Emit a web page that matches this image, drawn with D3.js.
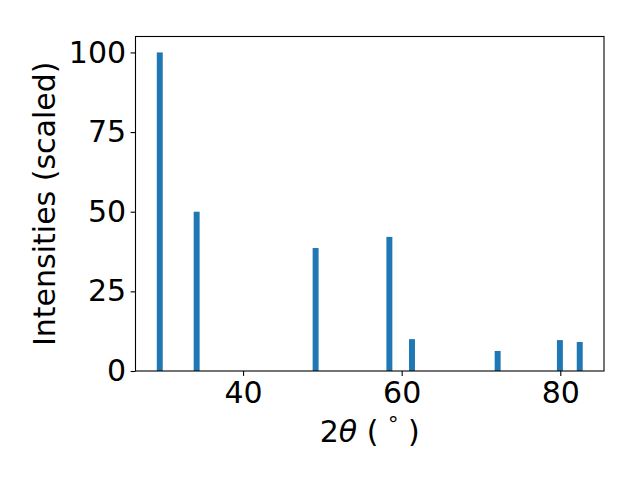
<!DOCTYPE html>
<html>
<head>
<meta charset="utf-8">
<script src="https://cdn.jsdelivr.net/npm/d3@7"></script>
<style>
  body { margin: 0; background: #fff; }
  text { font-family: "DejaVu Sans", sans-serif; }
</style>
</head>
<body>
<div id="chart"></div>
<script>
// peak positions (2theta, degrees) and scaled intensities
const angles = [29.5, 34.15, 49.15, 58.45, 61.3, 72.1, 79.95, 82.45]
const intensities = [100, 50, 38.6, 42.1, 10.0, 6.3, 9.7, 9.1]
const xTicks = [40, 60, 80]
const yTicks = [0, 25, 50, 75, 100]

const W = 640, H = 480
const margin = { top: 36.5, right: 36, bottom: 109, left: 135.5 }
const barW = 0.75
const fontSize = 30

const svg = d3.select("#chart").append("svg")
    .attr("width", W)
    .attr("height", H)

// matplotlib style 5% margins around the bars
const lo = d3.min(angles) - barW / 2, hi = d3.max(angles) + barW / 2
const pad = (hi - lo) * 0.05

const x = d3.scaleLinear()
    .domain([lo - pad, hi + pad])
    .range([margin.left, W - margin.right])

const y = d3.scaleLinear()
    .domain([0, d3.max(intensities) * 1.05])
    .range([H - margin.bottom, margin.top])

// bars
svg.append("g")
    .selectAll("rect")
    .data(angles)
    .enter().append("rect")
    .attr("x", (d) => x(d - barW / 2))
    .attr("width", (d) => x(d + barW / 2) - x(d - barW / 2))
    .attr("y", (d, i) => y(intensities[i]))
    .attr("height", (d, i) => y(0) - y(intensities[i]))
    .attr("fill", "#1f77b4")

// axes
const xAxis = svg.append("g")
    .attr("transform", "translate(0," + (H - margin.bottom) + ")")
    .call(d3.axisBottom(x).tickValues(xTicks).tickSize(4.9).tickPadding(4.5))
const yAxis = svg.append("g")
    .attr("transform", "translate(" + margin.left + ",0)")
    .call(d3.axisLeft(y).tickValues(yTicks).tickSize(4.9).tickPadding(4.5))

svg.selectAll(".domain").remove()
svg.selectAll(".tick line").attr("stroke", "#000").attr("stroke-width", 1.1)
svg.selectAll(".tick text")
    .attr("fill", "#000")
    .style("font-size", fontSize + "px")
    .style("font-family", "DejaVu Sans")
xAxis.selectAll(".tick text").attr("dy", null).attr("y", 32)

// frame
svg.append("rect")
    .attr("x", margin.left)
    .attr("y", margin.top)
    .attr("width", W - margin.right - margin.left)
    .attr("height", H - margin.bottom - margin.top)
    .attr("fill", "none")
    .attr("stroke", "#000")
    .attr("stroke-width", 1.1)

// labels
const xl = svg.append("text")
    .attr("x", (margin.left + W - margin.right) / 2)
    .attr("y", 441.5)
    .attr("text-anchor", "middle")
    .style("font-size", fontSize + "px")
xl.append("tspan").text("2")
xl.append("tspan").style("font-style", "italic").text("θ")
xl.append("tspan").text(" ( ")
xl.append("tspan").attr("dy", -10).style("font-size", "21px").text("°")
xl.append("tspan").attr("dy", 10).text(" )")

svg.append("text")
    .attr("transform", "translate(55," + ((margin.top + H - margin.bottom) / 2) + ") rotate(-90)")
    .attr("text-anchor", "middle")
    .style("font-size", fontSize + "px")
    .text("Intensities (scaled)")
</script>
</body>
</html>
